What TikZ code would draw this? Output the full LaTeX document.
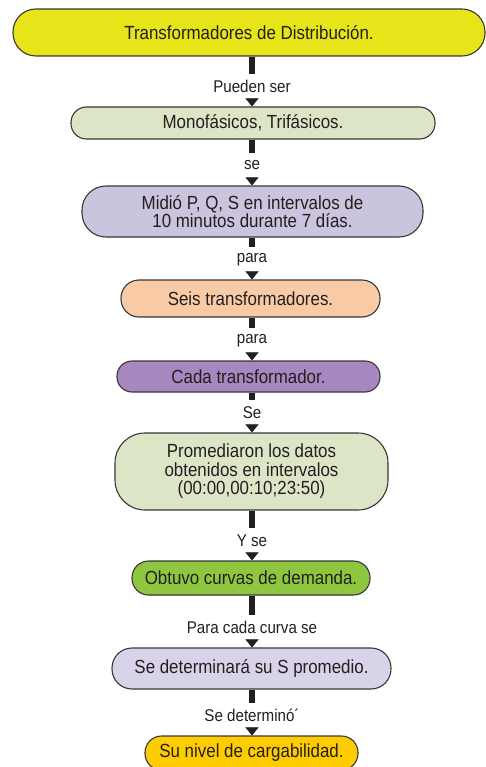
\documentclass[tikz,border=0pt]{standalone}
\usepackage{fontspec}
\setmainfont{Liberation Sans}[FakeStretch=0.89]
\usetikzlibrary{arrows.meta}
\definecolor{ink}{RGB}{35,31,32}
\definecolor{rim}{RGB}{55,55,55}
\definecolor{cyellow}{RGB}{231,229,25}
\definecolor{csage}{RGB}{221,229,199}
\definecolor{clilac}{RGB}{203,196,222}
\definecolor{cpeach}{RGB}{248,203,166}
\definecolor{cpurple}{RGB}{166,135,192}
\definecolor{cgreen}{RGB}{142,198,63}
\definecolor{cmauve}{RGB}{217,211,233}
\definecolor{cgold}{RGB}{255,204,0}
\newcommand\stagefont{\fontsize{19}{18.5}\selectfont}
\newcommand\linkfont{\fontsize{17}{18}\selectfont}
\tikzset{
  stage/.style={draw=rim, line width=1.1pt, text=ink, align=center, font=\stagefont, inner sep=0pt},
  bar/.style={draw=ink, line width=6pt},
  tip/.style={draw=ink, line width=0.4pt, -{Triangle[length=8pt,width=13pt]}},
  link/.style={fill=white, inner sep=0pt, minimum height=25pt, text=ink, font=\linkfont}
}

\begin{document}
\begin{tikzpicture}[x=1pt,y=-1pt]
      \useasboundingbox (0,0) rectangle (486,767);
      % boxes
      \node[stage, fill=cyellow, minimum width=472pt, minimum height=47pt, rounded corners=23pt] (dist) at (249,32.5) {Transformadores de Distribución.};
      \node[stage, fill=csage, minimum width=364pt, minimum height=32pt, rounded corners=15.5pt] (tipos) at (253,123) {Monofásicos, Trifásicos.};
      \node[stage, fill=clilac, minimum width=341pt, minimum height=51pt, rounded corners=24pt] (medida) at (252.5,211.5) {Midió P, Q, S en intervalos de\\10 minutos durante 7 días.};
      \node[stage, fill=cpeach, minimum width=259pt, minimum height=37pt, rounded corners=18pt] (seis) at (250.5,298.5) {Seis transformadores.};
      \node[stage, fill=cpurple, minimum width=263pt, minimum height=31pt, rounded corners=15pt] (cada) at (248.5,376.5) {Cada transformador.};
      \node[stage, fill=csage, minimum width=273pt, minimum height=77pt, rounded corners=30pt] (prom) at (251.5,471.5) {Promediaron los datos\\obtenidos en intervalos\\(00:00,00:10;23:50)};
      \node[stage, fill=cgreen, minimum width=238pt, minimum height=34pt, rounded corners=16.5pt] (curvas) at (251,578) {Obtuvo curvas de demanda.};
      \node[stage, fill=cmauve, minimum width=279pt, minimum height=41pt, rounded corners=20pt] (spro) at (251.5,668.5) {Se determinará su S promedio.};
      \node[stage, fill=cgold, minimum width=213pt, minimum height=34pt, rounded corners=16.5pt] (carga) at (251.5,753) {Su nivel de cargabilidad.};
      % labels
      \node[link] (l1) at (252,86.5) {Pueden ser};
      \node[link] (l2) at (252,165.5) {se};
      \node[link] (l3) at (252,259.5) {para};
      \node[link] (l4) at (252,340.5) {para};
      \node[link] (l5) at (252,412.5) {Se};
      \node[link] (l6) at (252,540.5) {Y se};
      \node[link] (l7) at (252,627.5) {Para cada curva se};
      \node[link] (l8) at (252,715.5) {Se determinó´};
      % links
      \draw[bar] (dist.south -| l1) -- (l1);
      \draw[tip] (l1) -- (tipos.north -| l1);
      \draw[bar] (tipos.south -| l2) -- (l2);
      \draw[tip] (l2) -- (medida.north -| l2);
      \draw[bar] (medida.south -| l3) -- (l3);
      \draw[tip] (l3) -- (seis.north -| l3);
      \draw[bar] (seis.south -| l4) -- (l4);
      \draw[tip] (l4) -- (cada.north -| l4);
      \draw[bar] (cada.south -| l5) -- (l5);
      \draw[tip] (l5) -- (prom.north -| l5);
      \draw[bar] (prom.south -| l6) -- (l6);
      \draw[tip] (l6) -- (curvas.north -| l6);
      \draw[bar] (curvas.south -| l7) -- (l7);
      \draw[tip] (l7) -- (spro.north -| l7);
      \draw[bar] (spro.south -| l8) -- (l8);
      \draw[tip] (l8) -- (carga.north -| l8);
\end{tikzpicture}
\end{document}
